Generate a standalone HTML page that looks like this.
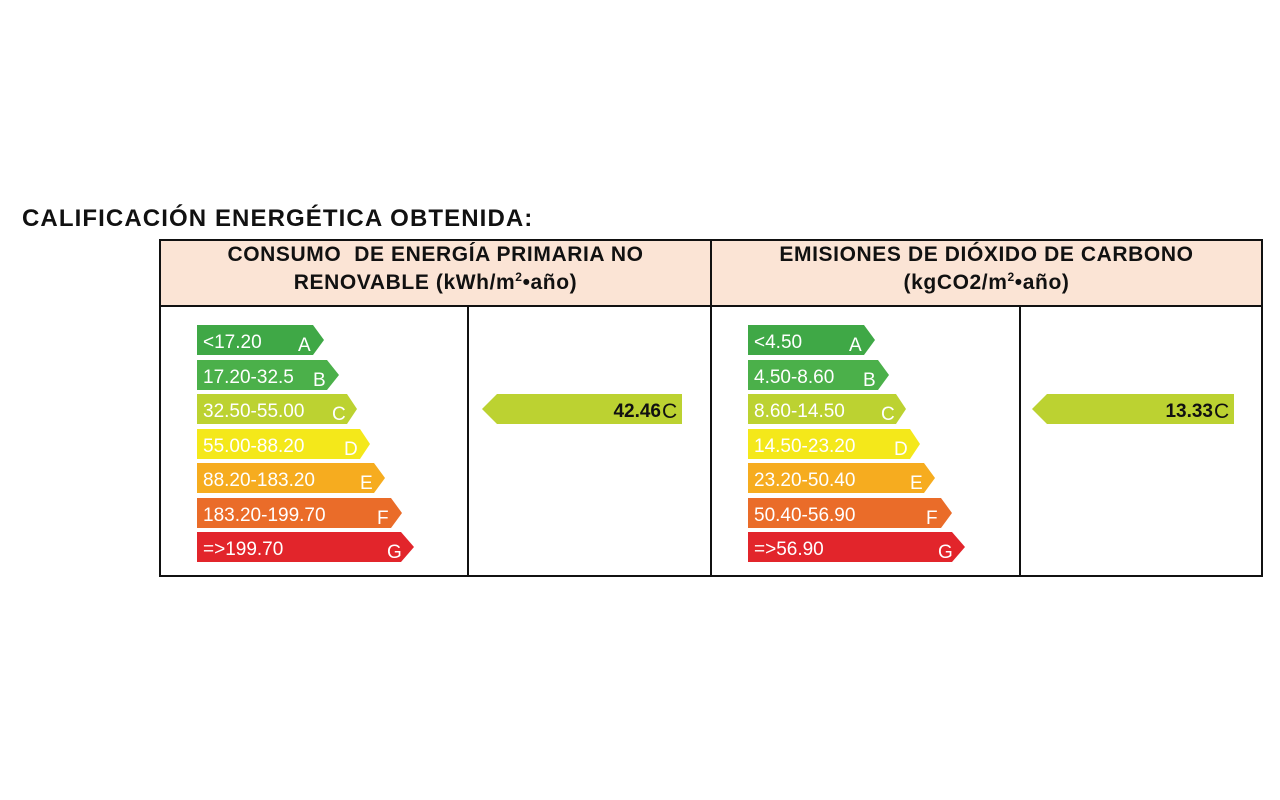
<!DOCTYPE html>
<html><head><meta charset="utf-8"><style>
body{margin:0;width:1280px;height:800px;background:#fff;position:relative;font-family:"Liberation Sans",Arial,sans-serif;overflow:hidden}
.t{position:absolute;left:22px;top:205px;font-size:24px;letter-spacing:1.1px;font-weight:bold;color:#111}
.h{position:absolute;background:#fbe4d5;text-align:center;font-weight:bold;font-size:21px;letter-spacing:0.6px;line-height:28px;color:#111}
svg{position:absolute;left:0;top:0}
</style></head><body>
<div class="t">CALIFICACIÓN ENERGÉTICA OBTENIDA:</div>
<div class="h" style="left:160px;top:240px;width:551px;height:66px;padding-top:1px;box-sizing:border-box">CONSUMO&nbsp; DE ENERGÍA PRIMARIA NO<br>RENOVABLE (kWh/m<sup style="font-size:12px;line-height:0">2</sup>•año)</div>
<div class="h" style="left:711px;top:240px;width:551px;height:66px;padding-top:1px;box-sizing:border-box">EMISIONES DE DIÓXIDO DE CARBONO<br>(kgCO2/m<sup style="font-size:12px;line-height:0">2</sup>•año)</div>
<svg width="1280" height="800" font-family="Liberation Sans, Arial, sans-serif">
<g fill="none" stroke="#111" stroke-width="2">
<rect x="160" y="240" width="1102" height="336"/>
<line x1="160" y1="306" x2="1262" y2="306"/>
<line x1="711" y1="240" x2="711" y2="576"/>
<line x1="468" y1="306" x2="468" y2="576"/>
<line x1="1020" y1="306" x2="1020" y2="576"/>
</g>
<g font-size="19" fill="#fff">
<polygon points="197,325 313,325 324,340 313,355 197,355" fill="#3fa846"/><text x="203" y="348">&lt;17.20</text><text x="298" y="351">A</text>
<polygon points="197,360 327,360 339,375 327,390 197,390" fill="#4bb04a"/><text x="203" y="383">17.20-32.5</text><text x="313" y="386">B</text>
<polygon points="197,394 347,394 357,409 347,424 197,424" fill="#bcd231"/><text x="203" y="417">32.50-55.00</text><text x="332" y="420">C</text>
<polygon points="197,429 360,429 370,444 360,459 197,459" fill="#f4e81a"/><text x="203" y="452">55.00-88.20</text><text x="344" y="455">D</text>
<polygon points="197,463 374,463 385,478 374,493 197,493" fill="#f6ac1f"/><text x="203" y="486">88.20-183.20</text><text x="360" y="489">E</text>
<polygon points="197,498 391,498 402,513 391,528 197,528" fill="#ea6c29"/><text x="203" y="521">183.20-199.70</text><text x="377" y="524">F</text>
<polygon points="197,532 401,532 414,547 401,562 197,562" fill="#e2252b"/><text x="203" y="555">=&gt;199.70</text><text x="387" y="558">G</text>
<polygon points="748,325 864,325 875,340 864,355 748,355" fill="#3fa846"/><text x="754" y="348">&lt;4.50</text><text x="849" y="351">A</text>
<polygon points="748,360 878,360 889,375 878,390 748,390" fill="#4bb04a"/><text x="754" y="383">4.50-8.60</text><text x="863" y="386">B</text>
<polygon points="748,394 896,394 906,409 896,424 748,424" fill="#bcd231"/><text x="754" y="417">8.60-14.50</text><text x="881" y="420">C</text>
<polygon points="748,429 910,429 920,444 910,459 748,459" fill="#f4e81a"/><text x="754" y="452">14.50-23.20</text><text x="894" y="455">D</text>
<polygon points="748,463 924,463 935,478 924,493 748,493" fill="#f6ac1f"/><text x="754" y="486">23.20-50.40</text><text x="910" y="489">E</text>
<polygon points="748,498 941,498 952,513 941,528 748,528" fill="#ea6c29"/><text x="754" y="521">50.40-56.90</text><text x="926" y="524">F</text>
<polygon points="748,532 952,532 965,547 952,562 748,562" fill="#e2252b"/><text x="754" y="555">=&gt;56.90</text><text x="938" y="558">G</text>
</g>
<polygon points="482,409 497,394 682,394 682,424 497,424" fill="#bcd231"/>
<text x="661" y="417" text-anchor="end" font-size="19" font-weight="bold" fill="#111">42.46</text><text x="662" y="418" font-size="21" fill="#111">C</text>
<polygon points="1032,409 1047,394 1234,394 1234,424 1047,424" fill="#bcd231"/>
<text x="1213" y="417" text-anchor="end" font-size="19" font-weight="bold" fill="#111">13.33</text><text x="1214" y="418" font-size="21" fill="#111">C</text>
</svg>
</body></html>
